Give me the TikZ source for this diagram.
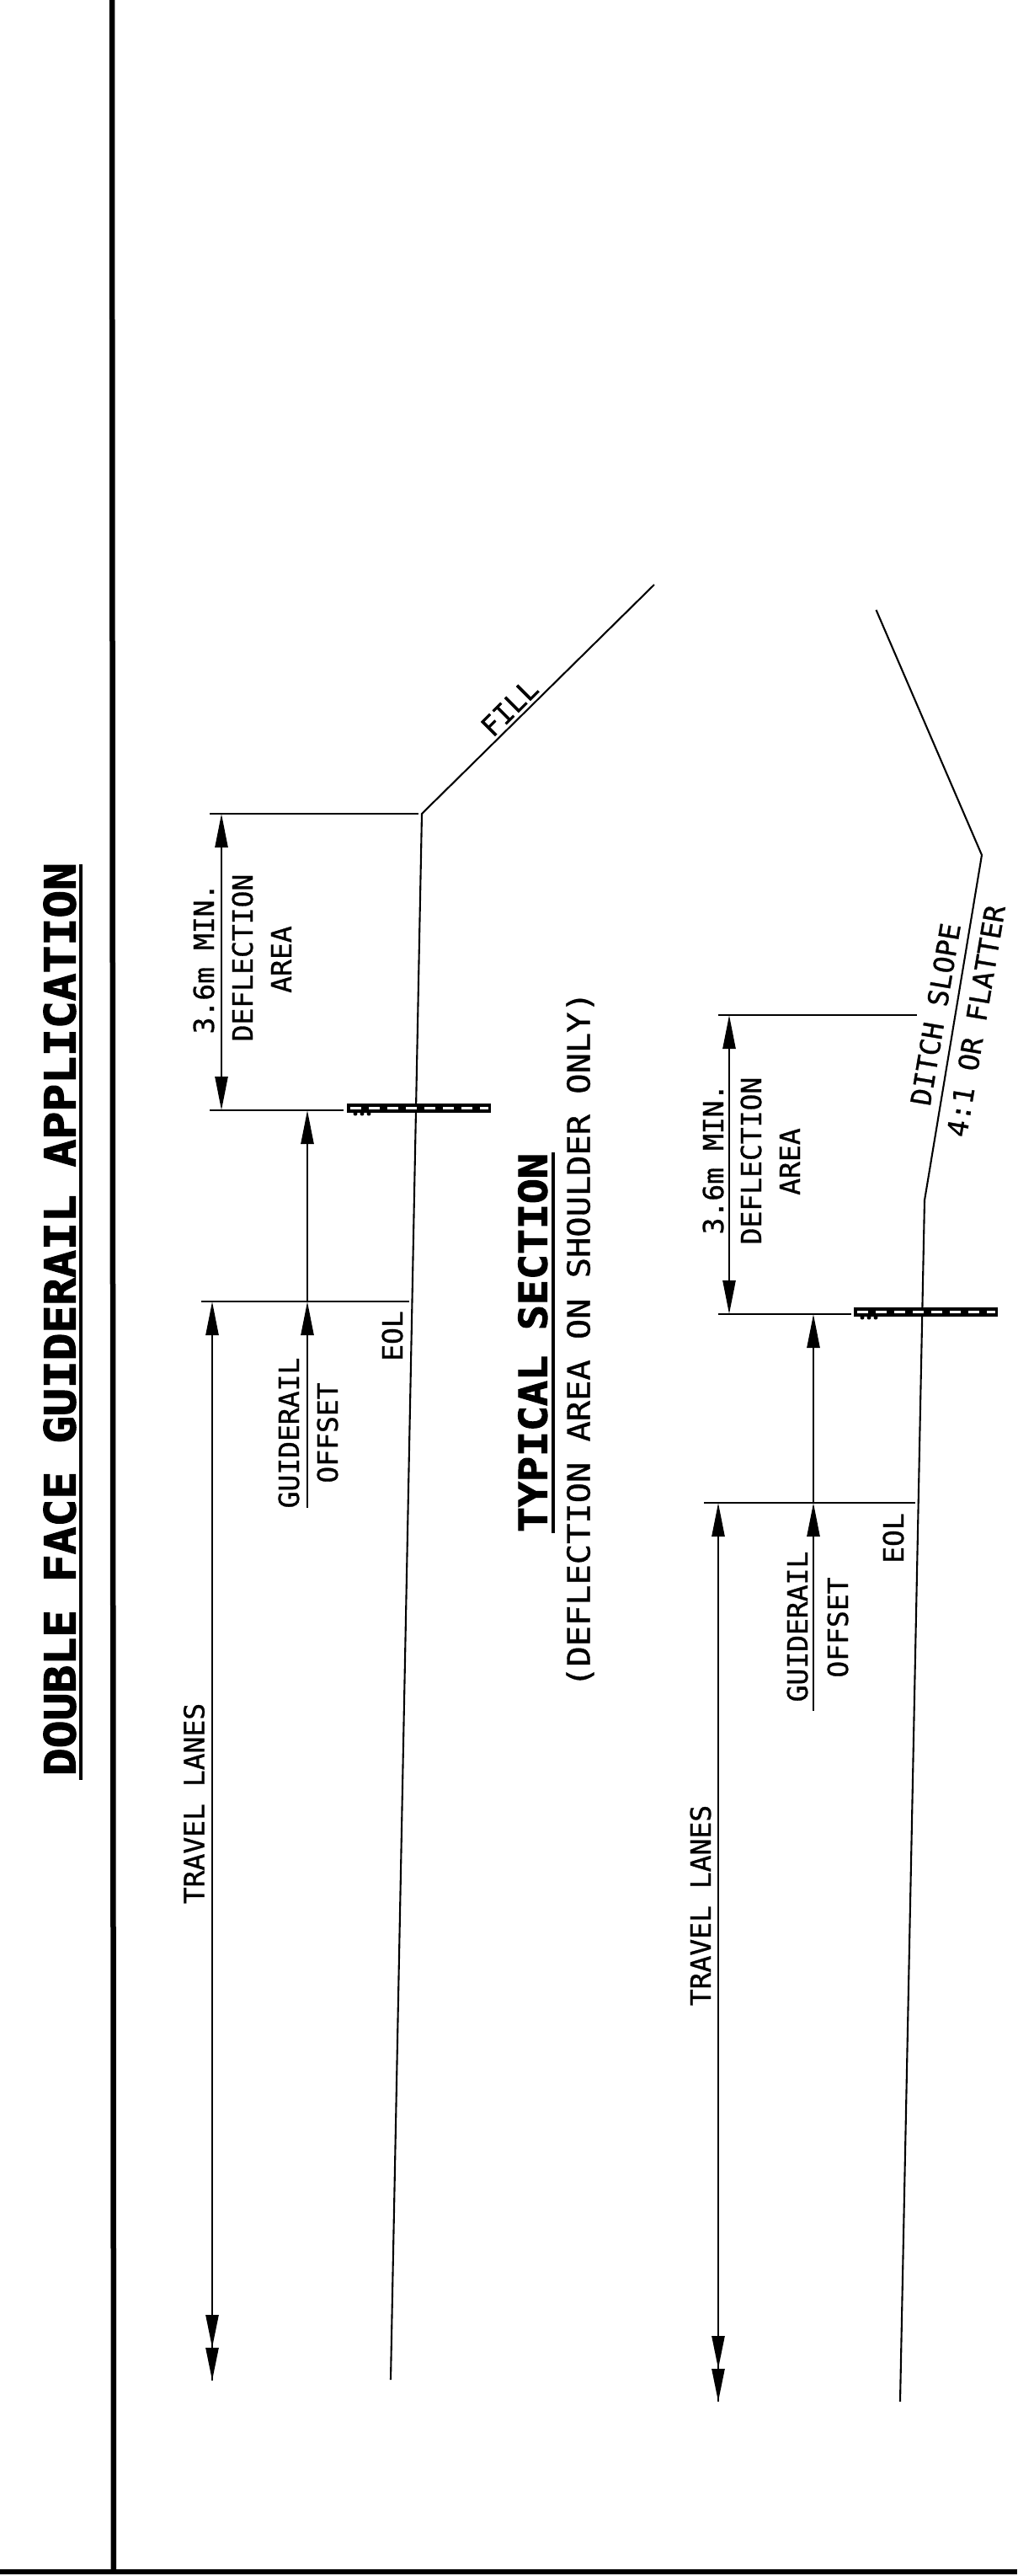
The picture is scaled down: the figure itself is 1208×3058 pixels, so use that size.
\documentclass[tikz,border=0pt]{standalone}
\usepackage{fontspec}
\usetikzlibrary{arrows.meta}
\newfontfamily\cadfont[FakeBold=0.9]{DejaVu Sans Mono}
\newfontfamily\cadheavy[FakeBold=2.2]{DejaVu Sans Mono Bold}
\tikzset{
  x=1pt,y=-1pt,
  frameline/.style={line width=6.5pt,black},
  roadline/.style={line width=2.1pt,black,line join=miter},
  extline/.style={line width=2.6pt,black},
  uline/.style={line width=3.5pt,black},
  dimline/.style={line width=2.6pt,black},
  headup/.style={-{Triangle[length=40pt,width=15pt]}},
  headboth/.style={{Triangle[length=40pt,width=15pt]}-{Triangle[length=40pt,width=15pt]}},
  headtwo/.style={-{Triangle[length=39pt,width=15pt]Triangle[length=39pt,width=15pt]}},
  lab/.style={inner sep=0pt,rotate=90,text depth=0pt,text height=24pt,font=\cadfont\fontsize{33}{36}\selectfont},
  railbox/.style={fill=black,draw=none},
  raildash/.style={line width=3pt,white,dash pattern=on 13pt off 9pt},
  raildot/.style={fill=black,draw=none},
}
\newcommand{\wide}[2]{\scalebox{#1}[1]{#2}}
\begin{document}
\begin{tikzpicture}
\useasboundingbox (0,0) rectangle (1208,3058);
% frame
\coordinate (ft) at (133,0);
\coordinate (fb) at (135,3053);
\coordinate (bl) at (0,3053);
\coordinate (br) at (1208,3053);
\draw[frameline] (ft) -- (fb);
\draw[frameline] (bl) -- (br);
% titles
\node[lab,text height=37pt,font=\cadheavy\fontsize{51}{54}\selectfont] (title) at (71,1566) {\wide{1.07}{DOUBLE FACE GUIDERAIL APPLICATION}};
\coordinate (t1) at (96,1026); \coordinate (t2) at (96,2113);
\draw[uline] (t1) -- (t2);
\node[lab,text height=33pt,font=\cadheavy\fontsize{46}{50}\selectfont] (typ) at (633,1594) {\wide{1.083}{TYPICAL SECTION}};
\coordinate (u1) at (657,1368); \coordinate (u2) at (657,1820);
\draw[uline] (u1) -- (u2);
\node[lab,text height=27pt,font=\cadfont\fontsize{37}{40}\selectfont] (sub) at (687,1590) {\wide{1.09}{(DEFLECTION AREA ON SHOULDER ONLY)}};

% ---- upper section ----
\coordinate (ra) at (777,694);
\coordinate (rb) at (501,966);
\coordinate (rc) at (464,2825);
\draw[roadline] (ra) -- (rb) -- (rc);
\coordinate (d1a) at (249,966); \coordinate (d1b) at (497,966);
\coordinate (d2a) at (249,1318); \coordinate (d2b) at (408,1318);
\coordinate (e1a) at (239,1545); \coordinate (e1b) at (486,1545);
\draw[extline] (d1a) -- (d1b);
\draw[extline] (d2a) -- (d2b);
\draw[extline] (e1a) -- (e1b);
\coordinate (a1t) at (263,966); \coordinate (a1b) at (263,1318);
\draw[dimline,headboth] (a1t) -- (a1b);
\coordinate (o1t) at (365,1318); \coordinate (o1m) at (365,1545); \coordinate (o1b) at (365,1790);
\draw[dimline,headup] (o1m) -- (o1t);
\draw[dimline,headup] (o1b) -- (o1m);
\coordinate (l1t) at (252,1545); \coordinate (l1b) at (252,2826); \coordinate (l1c) at (252,2700);
\draw[dimline,headup] (l1b) -- (l1t);
\draw[dimline,headtwo] (l1c) -- (l1b);
% rail
\coordinate (r1a) at (412,1310); \coordinate (r1b) at (583,1321);
\coordinate (r1m) at (416,1315.5); \coordinate (r1n) at (580,1315.5);
\draw[railbox] (r1a) rectangle (r1b);
\draw[raildash] (r1m) -- (r1n);
\fill[raildot] (422,1322) circle (2.5) (430,1322) circle (2.5) (438,1322) circle (2.5);
% labels
\node[lab] (n1) at (242,1138) {3.6m MIN.};
\node[lab] (n2) at (288,1137) {DEFLECTION};
\node[lab] (n3) at (334,1139) {AREA};
\node[lab] (n4) at (466,1586) {EOL};
\node[lab] (n5) at (343,1701) {GUIDERAIL};
\node[lab] (n6) at (389,1701) {OFFSET};
\node[lab] (n7) at (230.5,2141) {TRAVEL LANES};
\node[lab,rotate=-45] (n8) at (605,840) {FILL};

% ---- lower section ----
\coordinate (sa) at (1040.5,724);
\coordinate (sb) at (1166,1015);
\coordinate (sc) at (1098,1425);
\coordinate (sd) at (1069,2851);
\draw[roadline] (sa) -- (sb) -- (sc) -- (sd);
\coordinate (d3a) at (853,1205); \coordinate (d3b) at (1089,1205);
\coordinate (d4a) at (853,1560); \coordinate (d4b) at (1011,1560);
\coordinate (e2a) at (836,1784); \coordinate (e2b) at (1087,1784);
\draw[extline] (d3a) -- (d3b);
\draw[extline] (d4a) -- (d4b);
\draw[extline] (e2a) -- (e2b);
\coordinate (a2t) at (866,1205); \coordinate (a2b) at (866,1560);
\draw[dimline,headboth] (a2t) -- (a2b);
\coordinate (o2t) at (966,1560); \coordinate (o2m) at (966,1784); \coordinate (o2b) at (966,2031);
\draw[dimline,headup] (o2m) -- (o2t);
\draw[dimline,headup] (o2b) -- (o2m);
\coordinate (l2t) at (853,1784); \coordinate (l2b) at (853,2851); \coordinate (l2c) at (853,2720);
\draw[dimline,headup] (l2b) -- (l2t);
\draw[dimline,headtwo] (l2c) -- (l2b);
% rail
\coordinate (r2a) at (1014,1552); \coordinate (r2b) at (1185,1563);
\coordinate (r2m) at (1018,1557.5); \coordinate (r2n) at (1182,1557.5);
\draw[railbox] (r2a) rectangle (r2b);
\draw[raildash] (r2m) -- (r2n);
\fill[raildot] (1024,1564) circle (2.5) (1032,1564) circle (2.5) (1040,1564) circle (2.5);
% labels
\node[lab] (m1) at (847,1376) {3.6m MIN.};
\node[lab] (m2) at (892,1378) {DEFLECTION};
\node[lab] (m3) at (938,1379) {AREA};
\node[lab] (m4) at (1061,1826) {EOL};
\node[lab] (m5) at (947,1931) {GUIDERAIL};
\node[lab] (m6) at (995,1932) {OFFSET};
\node[lab] (m7) at (832,2262) {TRAVEL LANES};
\node[lab,rotate=-9.6] (m8) at (1111,1204) {DITCH SLOPE};
\node[lab,rotate=-9.6] (m9) at (1159,1212) {4:1 OR FLATTER};
\end{tikzpicture}
\end{document}
